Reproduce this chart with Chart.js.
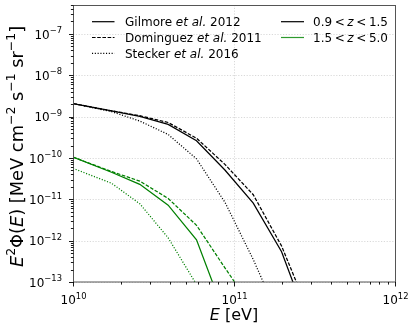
<!DOCTYPE html>
<html><head><meta charset="utf-8">
<script src="https://cdn.jsdelivr.net/npm/chart.js@4.4.1/dist/chart.umd.min.js"></script>
<style>html,body{margin:0;padding:0;background:#fff;overflow:hidden}#wrap{width:415px;height:332px}</style>
</head><body><div id="wrap"><canvas id="c" width="415" height="332"></canvas></div>
<script>
// ---- data ----
const energies = [1e10, 1.734e10, 2.6e10, 3.9e10, 5.85e10, 8.78e10, 1.317e11, 1.975e11, 2.963e11];
const gilmoreLowZ    = [2.07e-9, 1.37e-9, 1.01e-9, 6.5e-10, 2.6e-10, 5.1e-11, 8.1e-12, 5.4e-13, 7.9e-15];
const dominguezLowZ  = [2.07e-9, 1.38e-9, 1.05e-9, 7.2e-10, 3.0e-10, 7.0e-11, 1.29e-11, 7.4e-13, 1.6e-14];
const steckerLowZ    = [2.07e-9, 1.32e-9, 7.8e-10, 3.7e-10, 9.5e-11, 8.5e-12, 3.5e-13, 1.0e-14, null];
const gilmoreHighZ   = [1.05e-10, 4.5e-11, 2.3e-11, 7.2e-12, 1.05e-12, 1.6e-14, null, null, null];
const dominguezHighZ = [1.05e-10, 4.7e-11, 2.75e-11, 1.05e-11, 2.35e-12, 2.2e-13, 2.2e-14, null, null];
const steckerHighZ   = [5.6e-11, 2.45e-11, 7.8e-12, 1.17e-12, 8.7e-14, 3.2e-15, null, null, null];
const xTickExponents = [10, 11, 12];
const yTickExponents = [-13, -12, -11, -10, -9, -8, -7];
const xMin = 1e10, xMax = 1e12, yMin = 1e-13, yMax = 5e-7;
const modelNames = [["Gilmore", "2012"], ["Dominguez", "2011"], ["Stecker", "2016"]];
const zBins = [["0.9", "1.5"], ["1.5", "5.0"]];

const FAM = '"DejaVu Sans", sans-serif';
const BLACK = '#000000', GREEN = '#008000';
const DASH = [3.6, 1.6], DOT = [1.1, 1.7];

function pts(arr) {
  return energies.map((e, i) => ({x: e, y: arr[i]})).filter(p => p.y !== null);
}
function ds(arr, color, dash) {
  return {data: pts(arr), borderColor: color, borderWidth: 1.25, borderDash: dash, pointRadius: 0, tension: 0, fill: false};
}

function drawRich(ctx, segs, x, y, size, align) {
  const fontFor = s => (s.it ? 'italic ' : '') + (s.sup ? size * 0.7 : size) + 'px ' + FAM;
  let w = 0;
  segs.forEach(s => { ctx.font = fontFor(s); s.w = ctx.measureText(s.t).width + (s.gap || 0); w += s.w; });
  let cx = align === 'center' ? x - w / 2 : align === 'right' ? x - w : x;
  ctx.textAlign = 'left'; ctx.textBaseline = 'alphabetic';
  segs.forEach(s => {
    ctx.font = fontFor(s);
    ctx.fillText(s.t, cx, s.sup ? y - size * 0.45 : y);
    cx += s.w;
  });
  return w;
}
function supExp(e) { return (e < 0 ? '\u2212' : '') + Math.abs(e); }

const axesPlugin = {
  id: 'axesPlugin',
  beforeDatasetsDraw(chart) {
    const ctx = chart.ctx, a = chart.chartArea, xs = chart.scales.x, ys = chart.scales.y;
    ctx.save();
    ctx.strokeStyle = '#cfcfcf'; ctx.lineWidth = 0.8; ctx.setLineDash([1.2, 1.6]);
    yTickExponents.forEach(e => {
      const py = Math.round(ys.getPixelForValue(Number('1e' + e))) + 0.5;
      ctx.beginPath(); ctx.moveTo(a.left, py); ctx.lineTo(a.right, py); ctx.stroke();
    });
    xTickExponents.forEach(e => {
      const px = Math.round(xs.getPixelForValue(Number('1e' + e))) + 0.5;
      ctx.beginPath(); ctx.moveTo(px, a.top); ctx.lineTo(px, a.bottom); ctx.stroke();
    });
    ctx.restore();
  },
  afterDraw(chart) {
    const ctx = chart.ctx, a = chart.chartArea, xs = chart.scales.x, ys = chart.scales.y;
    ctx.save();
    // frame
    ctx.strokeStyle = '#555'; ctx.lineWidth = 1; ctx.setLineDash([]);
    ctx.strokeRect(Math.round(a.left) + 0.5, Math.round(a.top) + 0.5, Math.round(a.right - a.left), Math.round(a.bottom - a.top) - 0.5);
    // ticks
    ctx.strokeStyle = '#000'; ctx.lineWidth = 0.9;
    const L = Math.round(a.left) + 0.5, B = Math.round(a.bottom);
    for (let d = -14; d <= -6; d++) {
      for (let m = 1; m <= 9; m++) {
        const v = m * Number('1e' + d);
        if (v < yMin * 0.999 || v > yMax * 1.001) continue;
        const py = Math.round(ys.getPixelForValue(v)) + 0.5;
        const len = m === 1 ? 4.5 : 2.6;
        ctx.beginPath(); ctx.moveTo(L, py); ctx.lineTo(L - len, py); ctx.stroke();
      }
    }
    for (let d = 10; d <= 12; d++) {
      for (let m = 1; m <= 9; m++) {
        const v = m * Number('1e' + d);
        if (v < xMin * 0.999 || v > xMax * 1.001) continue;
        const px = Math.round(xs.getPixelForValue(v)) + 0.5;
        const len = m === 1 ? 4.5 : 2.6;
        ctx.beginPath(); ctx.moveTo(px, B); ctx.lineTo(px, B + len); ctx.stroke();
      }
    }
    // tick labels
    ctx.fillStyle = '#000';
    yTickExponents.forEach(e => {
      const py = ys.getPixelForValue(Number('1e' + e));
      drawRich(ctx, [{t: '10'}, {t: supExp(e), sup: true}], 62, py + 4.6, 12, 'right');
    });
    xTickExponents.forEach(e => {
      const px = xs.getPixelForValue(Number('1e' + e));
      drawRich(ctx, [{t: '10'}, {t: supExp(e), sup: true}], px + 0.5, 304, 12, 'center');
    });
    // axis titles
    drawRich(ctx, [{t: 'E', it: true}, {t: ' [eV]'}], (a.left + a.right) / 2, 320, 16, 'center');
    ctx.save();
    ctx.translate(23, 146.5);
    ctx.rotate(-Math.PI / 2);
    drawRich(ctx, [
      {t: 'E', it: true}, {t: '2', sup: true}, {t: '\u03A6('}, {t: 'E', it: true}, {t: ') [MeV cm'},
      {t: '\u22122', sup: true}, {t: ' s'}, {t: '\u22121', sup: true}, {t: ' sr'}, {t: '\u22121', sup: true}, {t: ']'}
    ], 0, 0, 17.8, 'center');
    ctx.restore();
    // legend
    const rows = [21.7, 37.5, 53.3];
    const styles = [[], DASH, DOT];
    ctx.lineWidth = 1.2;
    modelNames.forEach((nm, i) => {
      ctx.strokeStyle = BLACK; ctx.setLineDash(styles[i]);
      ctx.beginPath(); ctx.moveTo(92, rows[i]); ctx.lineTo(114.5, rows[i]); ctx.stroke();
      ctx.setLineDash([]);
      drawRich(ctx, [{t: nm[0] + ' '}, {t: 'et al.', it: true}, {t: ' ' + nm[1]}], 125, rows[i] + 4.3, 12, 'left');
    });
    const zColors = [BLACK, '#2e9a2e'];
    zBins.forEach((zb, i) => {
      ctx.strokeStyle = zColors[i]; ctx.setLineDash([]);
      ctx.beginPath(); ctx.moveTo(281, rows[i]); ctx.lineTo(304, rows[i]); ctx.stroke();
      drawRich(ctx, [{t: zb[0], gap: 2.6}, {t: '<', gap: 2.6}, {t: 'z', it: true, gap: 2.6}, {t: '<', gap: 2.6}, {t: zb[1]}], 313, rows[i] + 4.3, 12, 'left');
    });
    ctx.restore();
  }
};

new Chart(document.getElementById('c'), {
  type: 'line',
  data: {
    datasets: [
      ds(gilmoreLowZ, BLACK, []),
      ds(dominguezLowZ, BLACK, DASH),
      ds(steckerLowZ, BLACK, DOT),
      ds(gilmoreHighZ, GREEN, []),
      ds(dominguezHighZ, GREEN, DASH),
      ds(steckerHighZ, GREEN, DOT)
    ]
  },
  options: {
    responsive: false, animation: false, devicePixelRatio: 1,
    layout: {padding: {left: 73, right: 20, top: 5, bottom: 50}},
    plugins: {legend: {display: false}, tooltip: {enabled: false}},
    scales: {
      x: {type: 'logarithmic', min: xMin, max: xMax, display: false},
      y: {type: 'logarithmic', min: yMin, max: yMax, display: false}
    }
  },
  plugins: [axesPlugin]
});
</script>
</body></html>
